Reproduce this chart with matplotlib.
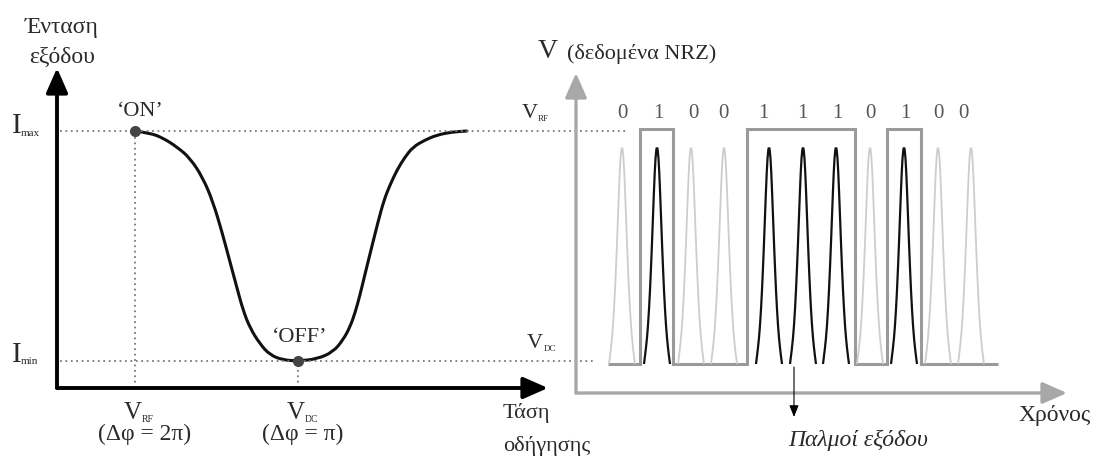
import numpy as np
import matplotlib.pyplot as plt
from matplotlib.path import Path
from matplotlib.patches import PathPatch

plt.rcParams['font.family'] = ['Liberation Serif', 'DejaVu Serif']

W, H = 1100, 458

# left panel: modulator transfer curve (drive voltage vs output intensity), arbitrary units
curve_v = [7.8, 9.3, 10.6, 12.0, 13.3, 14.6, 15.6, 16.5, 17.3, 18.0, 18.6, 19.3, 20.3, 21.3,
           22.6, 24.1, 26.0, 27.6, 28.6, 29.3, 29.8, 30.3, 30.9, 31.5, 32.1, 32.7, 33.3,
           34.0, 34.8, 35.6, 36.8, 38.0, 39.5, 41.0]
curve_i = [25.7, 25.5, 25.0, 24.1, 23.0, 21.0, 18.6, 15.6, 12.6, 10.0, 7.8, 6.0, 4.4, 3.3,
           2.8, 2.7, 2.9, 3.6, 4.8, 6.1, 7.5, 9.3, 11.8, 14.2, 16.6, 18.8, 20.3,
           21.8, 23.1, 24.1, 24.8, 25.3, 25.6, 25.7]
v_rf, v_dc = 7.8, 24.1
i_max, i_min = 25.7, 2.7

# right panel: NRZ data and output pulses
bits = [0, 1, 0, 0, 1, 1, 1, 0, 1, 0, 0]
bit_edges = [3.2, 6.4, 9.7, 13.4, 17.1, 20.7, 24.3, 27.9, 31.1, 34.5, 37.9, 42.2]
pulse_t = [4.6, 8.1, 11.5, 14.8, 19.3, 22.7, 26.0, 29.4, 32.8, 36.2, 39.5]
label_t = [4.6, 8.2, 11.7, 14.7, 18.7, 22.6, 26.1, 29.4, 32.9, 36.2, 38.7]
pulse_off = [-1.3, -1.1, -0.9, -0.7, -0.5, -0.3, -0.15, 0.0, 0.15, 0.3, 0.5, 0.7, 0.9, 1.1, 1.3]
pulse_shape = [0.0, 0.07, 0.17, 0.33, 0.55, 0.8, 0.95, 1.0, 0.95, 0.8, 0.55, 0.33, 0.17, 0.07, 0.0]
v_low, v_high, pulse_peak = 2.9, 26.4, 24.8

fig = plt.figure(figsize=(11, 4.58), dpi=100)

def txt(px, py, s, size, **kw):
    kw.setdefault('va', 'center')
    kw.setdefault('color', '#2a2a2a')
    fig.text(px / W, 1 - py / H, s, fontsize=size, **kw)

def axis_arrows(ax, color, lw):
    for end in [(49.1, 0), (0, 32)]:
        ax.annotate('', xy=end, xytext=(0, 0), annotation_clip=False,
                    arrowprops=dict(arrowstyle='-|>,head_length=0.75,head_width=0.33',
                                    mutation_scale=20, lw=lw, color=color,
                                    shrinkA=0, shrinkB=0))

def smooth_line(ax, xs, ys, **kw):
    # quadratic bezier through the midpoints of the read points
    pts = list(zip(xs, ys))
    verts = [pts[0]]
    codes = [Path.MOVETO]
    for k in range(1, len(pts) - 1):
        mid = ((pts[k][0] + pts[k + 1][0]) / 2, (pts[k][1] + pts[k + 1][1]) / 2)
        verts += [pts[k], mid]
        codes += [Path.CURVE3, Path.CURVE3]
    verts.append(pts[-1])
    codes.append(Path.LINETO)
    ax.add_patch(PathPatch(Path(verts, codes), fill=False, **kw))

# ---- left panel
ax1 = fig.add_axes([57 / W, 70 / H, 491 / W, 320 / H])
ax1.set_xlim(0, 49.1)
ax1.set_ylim(0, 32)
ax1.axis('off')
dots = dict(ls=(0, (1, 2)), color='#7a7a7a', lw=1.3, clip_on=False)
ax1.plot([0.3, 56.9], [i_max, i_max], **dots)
ax1.plot([0.3, 53.7], [i_min, i_min], **dots)
ax1.plot([v_rf, v_rf], [0, i_max], **dots)
ax1.plot([v_dc, v_dc], [0, i_min], **dots)
smooth_line(ax1, curve_v, curve_i, edgecolor='#111111', lw=2.2, capstyle='round')
ax1.plot([v_rf, v_dc], [i_max, i_min], 'o', color='#444444', ms=7, ls='none')
axis_arrows(ax1, 'black', 2.8)

txt(62, 27, 'Ένταση', 17, ha='center')
txt(62, 57, 'εξόδου', 17, ha='center')
txt(17, 126, 'I', 21, ha='center')
txt(21, 134, 'max', 8, ha='left')
txt(17, 355, 'I', 21, ha='center')
txt(21, 362, 'min', 8, ha='left')
txt(140, 112, '‘ON’', 16, ha='center')
txt(300, 337, '‘OFF’', 16, ha='center')
txt(133, 413, 'V', 18, ha='center')
txt(142, 419, 'RF', 7, ha='left')
txt(145, 434, '(Δφ = 2π)', 17, ha='center')
txt(296, 413, 'V', 18, ha='center')
txt(305, 419, 'DC', 7, ha='left')
txt(303, 434, '(Δφ = π)', 17, ha='center')
txt(503, 413, 'Τάση', 16, ha='left')
txt(503, 446, 'οδήγησης', 16, ha='left')

# ---- right panel
ax2 = fig.add_axes([576 / W, 65 / H, 491 / W, 320 / H])
ax2.set_xlim(0, 49.1)
ax2.set_ylim(0, 32)
ax2.axis('off')
levels = [v_high if b else v_low for b in bits]
ax2.stairs(levels, bit_edges, baseline=None, color='#9a9a9a', lw=2.2)
for t, b in zip(pulse_t, bits):
    px = [t + o for o in pulse_off]
    py = [v_low + (pulse_peak - v_low) * s for s in pulse_shape]
    if b:
        smooth_line(ax2, px, py, edgecolor='#111111', lw=1.6)
    else:
        smooth_line(ax2, px, py, edgecolor='#cdcdcd', lw=1.3)
for t, b in zip(label_t, bits):
    ax2.text(t, 28.0, str(b), fontsize=15, color='#555555', ha='center', va='center')
axis_arrows(ax2, '#a8a8a8', 2.4)
ax2.annotate('', xy=(21.8, -2.4), xytext=(21.8, 2.6), annotation_clip=False,
             arrowprops=dict(arrowstyle='-|>,head_length=0.5,head_width=0.2',
                             mutation_scale=14, lw=0.8, color='black',
                             shrinkA=0, shrinkB=0))

txt(548, 52, 'V', 20, ha='center')
txt(567, 54, '(δεδομένα NRZ)', 16, ha='left')
txt(530, 113, 'V', 16, ha='center')
txt(538, 119, 'RF', 6.5, ha='left')
txt(535, 343, 'V', 16, ha='center')
txt(544, 349, 'DC', 6.5, ha='left')
txt(1018, 415, 'Χρόνος', 17, ha='left')
txt(858, 440, 'Παλμοί εξόδου', 17, ha='center', style='italic')

fig.savefig('out.png', dpi=100)
